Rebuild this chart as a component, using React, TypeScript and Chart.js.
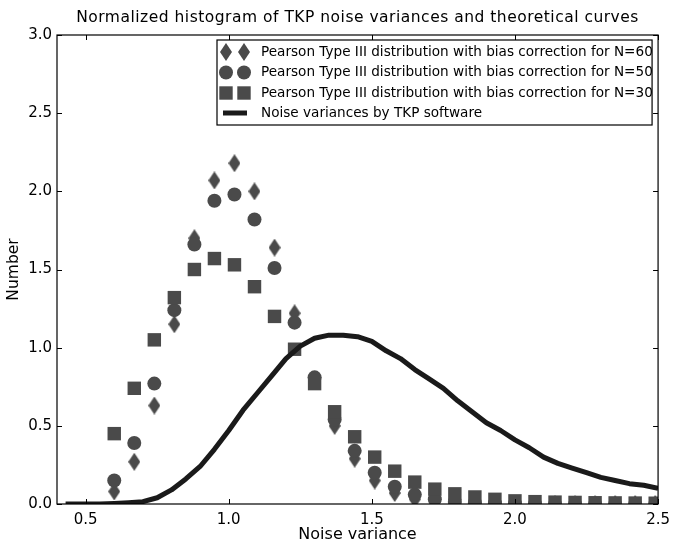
import React, { useEffect, useRef } from 'react';
import { Chart, registerables } from 'chart.js';

Chart.register(...registerables);

const titleText = 'Normalized histogram of TKP noise variances and theoretical curves';
const xTitle = 'Noise variance';
const yTitle = 'Number';

const seriesLabels = [
  'Pearson Type III distribution with bias correction for N=60',
  'Pearson Type III distribution with bias correction for N=50',
  'Pearson Type III distribution with bias correction for N=30',
  'Noise variances by TKP software',
];

const markerX = [
  0.6, 0.67, 0.74, 0.81, 0.88, 0.95, 1.02, 1.09, 1.16, 1.23, 1.3, 1.37, 1.44, 1.51,
  1.58, 1.65, 1.72, 1.79, 1.86, 1.93, 2.0, 2.07, 2.14, 2.21, 2.28, 2.35, 2.42, 2.49,
];
const n60 = [
  0.08, 0.27, 0.63, 1.15, 1.7, 2.07, 2.18, 2.0, 1.64, 1.22, 0.79, 0.5, 0.29, 0.15,
  0.07, 0.03, 0.015, 0.007, 0.003, 0.001, 0, 0, 0, 0, 0, 0, 0, 0,
];
const n50 = [
  0.15, 0.39, 0.77, 1.24, 1.66, 1.94, 1.98, 1.82, 1.51, 1.16, 0.81, 0.54, 0.34, 0.2,
  0.11, 0.06, 0.03, 0.015, 0.008, 0.005, 0.003, 0.002, 0.001, 0.001, 0, 0, 0, 0,
];
const n30 = [
  0.45, 0.74, 1.05, 1.32, 1.5, 1.57, 1.53, 1.39, 1.2, 0.99, 0.77, 0.59, 0.43, 0.3,
  0.21, 0.14, 0.095, 0.065, 0.045, 0.03, 0.02, 0.015, 0.012, 0.01, 0.008, 0.007, 0.006, 0.005,
];

const tkpX = [
  0.43, 0.5, 0.55, 0.6, 0.65, 0.7, 0.75, 0.8, 0.85, 0.9, 0.95, 1.0, 1.05, 1.1, 1.15,
  1.2, 1.25, 1.3, 1.35, 1.4, 1.45, 1.5, 1.55, 1.6, 1.65, 1.7, 1.75, 1.8, 1.85, 1.9,
  1.95, 2.0, 2.05, 2.1, 2.15, 2.2, 2.25, 2.3, 2.35, 2.4, 2.45, 2.5,
];
const tkpY = [
  0.0, 0.0, 0.0, 0.003, 0.008, 0.015, 0.04, 0.09, 0.16, 0.24, 0.35, 0.47, 0.6, 0.71, 0.82,
  0.93, 1.01, 1.06, 1.08, 1.08, 1.07, 1.04, 0.98, 0.93, 0.86, 0.8, 0.74, 0.66, 0.59, 0.52,
  0.47, 0.41, 0.36, 0.3, 0.26, 0.23, 0.2, 0.17, 0.15, 0.13, 0.12, 0.1,
];

const xTicks = [0.5, 1.0, 1.5, 2.0, 2.5];
const yTicks = [0, 0.5, 1.0, 1.5, 2.0, 2.5, 3.0];

const FONT = "'DejaVu Sans', 'Liberation Sans', sans-serif";
const MARKER = '#4a4a4a';
const LINE = '#1a1a1a';

function makeDiamond(): HTMLCanvasElement {
  const c = document.createElement('canvas');
  c.width = 12;
  c.height = 18;
  const g = c.getContext('2d')!;
  g.fillStyle = MARKER;
  g.beginPath();
  g.moveTo(6, 0);
  g.lineTo(12, 9);
  g.lineTo(6, 18);
  g.lineTo(0, 9);
  g.closePath();
  g.fill();
  return c;
}

export default function App() {
  const ref = useRef<HTMLCanvasElement | null>(null);

  useEffect(() => {
    if (!ref.current) return;
    const diamond = makeDiamond();

    const decorPlugin = {
      id: 'decor',
      afterDraw(chart: any) {
        const { ctx, chartArea: a, scales } = chart;
        const xs = scales.x;
        const ys = scales.y;
        ctx.save();
        // frame
        ctx.strokeStyle = '#000';
        ctx.lineWidth = 1.2;
        ctx.strokeRect(a.left, a.top, a.right - a.left, a.bottom - a.top);
        // inward ticks on all sides
        ctx.lineWidth = 1;
        const tl = 5;
        ctx.beginPath();
        xTicks.forEach((v) => {
          const px = Math.round(xs.getPixelForValue(v)) + 0.5;
          ctx.moveTo(px, a.bottom);
          ctx.lineTo(px, a.bottom - tl);
          ctx.moveTo(px, a.top);
          ctx.lineTo(px, a.top + tl);
        });
        yTicks.forEach((v) => {
          const py = Math.round(ys.getPixelForValue(v)) + 0.5;
          ctx.moveTo(a.left, py);
          ctx.lineTo(a.left + tl, py);
          ctx.moveTo(a.right, py);
          ctx.lineTo(a.right - tl, py);
        });
        ctx.stroke();

        // title
        ctx.fillStyle = '#000';
        ctx.font = `15.5px ${FONT}`;
        (ctx as any).letterSpacing = '0.5px';
        ctx.textAlign = 'center';
        ctx.textBaseline = 'middle';
        ctx.fillText(titleText, (a.left + a.right) / 2, 18);
        (ctx as any).letterSpacing = '0px';

        // legend
        const lx0 = a.left + 160;
        const lx1 = a.right - 6;
        const ly0 = a.top + 5;
        const ly1 = a.top + 90;
        ctx.fillStyle = '#fff';
        ctx.fillRect(lx0, ly0, lx1 - lx0, ly1 - ly0);
        ctx.strokeStyle = '#000';
        ctx.lineWidth = 1.2;
        ctx.strokeRect(lx0, ly0, lx1 - lx0, ly1 - ly0);
        const rowY = [ly0 + 12, ly0 + 32.5, ly0 + 53, ly0 + 73];
        const mx = [lx0 + 9, lx0 + 27];
        ctx.fillStyle = MARKER;
        mx.forEach((x) => {
          ctx.drawImage(diamond, x - 6, rowY[0] - 9);
          ctx.beginPath();
          ctx.arc(x, rowY[1], 7, 0, Math.PI * 2);
          ctx.fill();
          ctx.fillRect(x - 6.7, rowY[2] - 6.7, 13.4, 13.4);
        });
        ctx.strokeStyle = LINE;
        ctx.lineWidth = 5;
        ctx.beginPath();
        ctx.moveTo(lx0 + 6, rowY[3]);
        ctx.lineTo(lx0 + 30, rowY[3]);
        ctx.stroke();
        ctx.fillStyle = '#000';
        ctx.font = `13.6px ${FONT}`;
        ctx.textAlign = 'left';
        ctx.textBaseline = 'middle';
        seriesLabels.forEach((t, i) => ctx.fillText(t, lx0 + 44, rowY[i]));
        ctx.restore();
      },
    };

    const pts = (xs: number[], ys: number[]) => xs.map((x, i) => ({ x, y: ys[i] }));

    const chart = new Chart(ref.current, {
      type: 'scatter',
      data: {
        datasets: [
          {
            label: seriesLabels[3],
            data: pts(tkpX, tkpY),
            showLine: true,
            borderColor: LINE,
            borderWidth: 5,
            pointRadius: 0,
            tension: 0,
            borderJoinStyle: 'round',
            order: 0,
          } as any,
          {
            label: seriesLabels[2],
            data: pts(markerX, n30),
            pointStyle: 'rect',
            pointRadius: 9.5,
            backgroundColor: MARKER,
            pointBorderWidth: 0,
            borderWidth: 0,
            order: 1,
          },
          {
            label: seriesLabels[1],
            data: pts(markerX, n50),
            pointStyle: 'circle',
            pointRadius: 7,
            backgroundColor: MARKER,
            pointBorderWidth: 0,
            borderWidth: 0,
            order: 2,
          },
          {
            label: seriesLabels[0],
            data: pts(markerX, n60),
            pointStyle: diamond,
            pointRadius: 9,
            backgroundColor: MARKER,
            pointBorderWidth: 0,
            borderWidth: 0,
            order: 3,
          },
        ],
      },
      options: {
        responsive: false,
        animation: false,
        layout: { padding: { top: 35, right: 15, left: 0, bottom: 0 } },
        plugins: {
          legend: { display: false },
          title: { display: false },
          tooltip: { enabled: false },
        },
        scales: {
          x: {
            type: 'linear',
            min: 0.4,
            max: 2.5,
            afterFit: (s: any) => {
              s.height = 40;
            },
            afterBuildTicks: (s: any) => {
              s.ticks = xTicks.map((v) => ({ value: v }));
            },
            grid: { display: false, drawTicks: false },
            border: { display: false },
            ticks: {
              color: '#000',
              padding: 7,
              font: { family: FONT, size: 15 },
              callback: (v: any) => Number(v).toFixed(1),
            },
            title: {
              display: true,
              text: xTitle,
              color: '#000',
              font: { family: FONT, size: 16 },
              padding: { top: 0, bottom: 0 },
            },
          },
          y: {
            type: 'linear',
            min: 0,
            max: 3,
            afterFit: (s: any) => {
              s.width = 57;
            },
            afterBuildTicks: (s: any) => {
              s.ticks = yTicks.map((v) => ({ value: v }));
            },
            grid: { display: false, drawTicks: false },
            border: { display: false },
            ticks: {
              color: '#000',
              padding: 5,
              font: { family: FONT, size: 15 },
              callback: (v: any) => Number(v).toFixed(1),
            },
            title: {
              display: true,
              text: yTitle,
              color: '#000',
              font: { family: FONT, size: 15.5 },
              padding: { top: 5, bottom: 0 },
            },
          },
        },
      },
      plugins: [decorPlugin],
    });

    return () => chart.destroy();
  }, []);

  return (
    <div style={{ position: 'fixed', left: 0, top: 0, width: 677, height: 544, background: '#fff' }}>
      <canvas ref={ref} width={677} height={544} style={{ display: 'block' }} />
    </div>
  );
}
